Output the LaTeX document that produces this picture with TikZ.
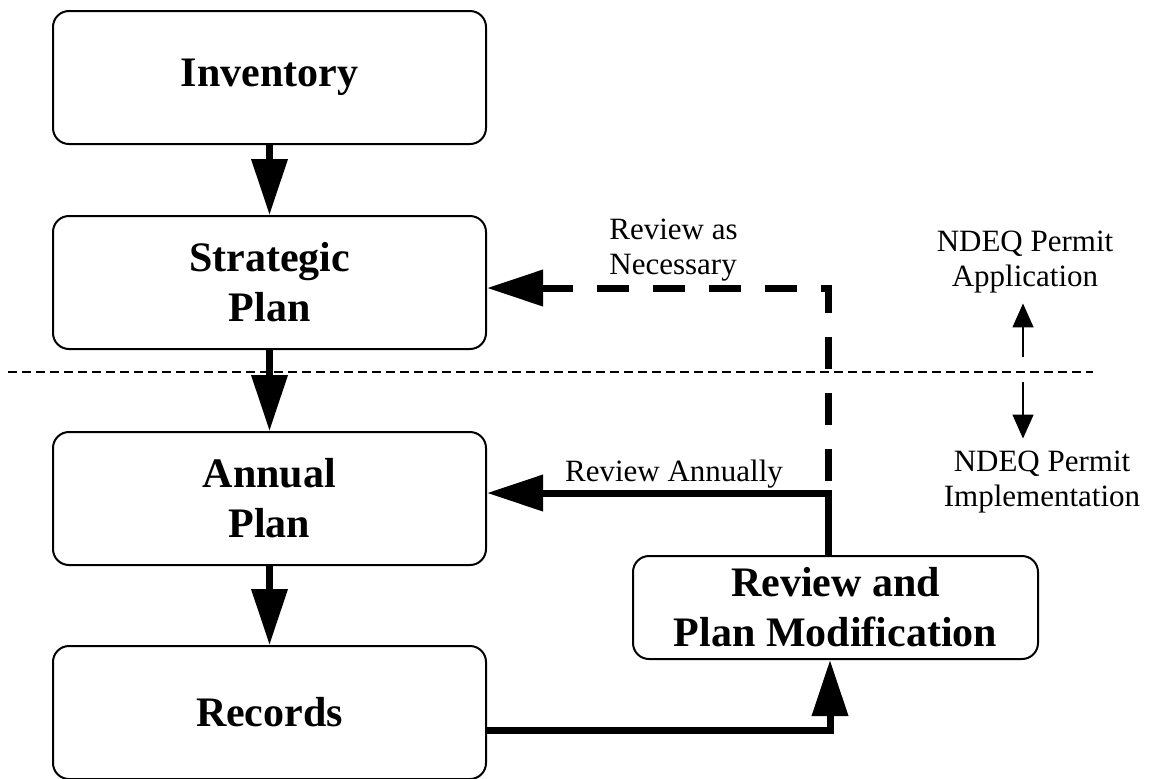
\documentclass[tikz,border=0pt]{standalone}
\usepackage{fontspec}
\setmainfont{Liberation Serif}
\usetikzlibrary{positioning,arrows.meta}

\begin{document}
\begin{tikzpicture}[x=0.5pt,y=-0.5pt,
  blk/.style={rectangle,rounded corners=8pt,draw,line width=1pt,
              minimum width=216.5pt,minimum height=66.5pt,align=center,
              font=\fontsize{21}{25}\selectfont\bfseries,inner sep=2pt},
  arr/.style={-{Triangle[length=28pt,width=17.5pt]},line width=3.5pt},
  darr/.style={{Triangle[length=28pt,width=17.5pt]}-,line width=3.5pt,
               dash pattern=on 16pt off 12pt},
  tarr/.style={-{Triangle[length=12pt,width=10.5pt]},line width=0.75pt},
  lbl/.style={font=\fontsize{15.5}{17.5}\selectfont,inner sep=0pt},
  sepline/.style={line width=0.75pt,dash pattern=on 4.5pt off 2.5pt}
]
\useasboundingbox (0,0) rectangle (1149,778);

% left column
\node[blk] (inv) at (269.5,77.5) {Inventory};
\node[blk,below=35pt of inv] (strat) {Strategic\\Plan};
\node[blk,below=40.5pt of strat] (ann) {Annual\\Plan};
\node[blk,below=39.5pt of ann] (rec) {Records};
\node[blk,minimum width=202.5pt,minimum height=51.5pt] (rpm) at (835.5,607.5)
  {Review and\\Plan Modification};

% permit boundary
\coordinate (sl) at (8,372);
\coordinate (sr) at (1093,372);
\draw[sepline] (sl) -- (sr);

\draw[arr] (inv) -- (strat);
\draw[arr] (strat) -- (ann);
\draw[arr] (ann) -- (rec);
\draw[arr] ([yshift=-8.75pt]rec.east) -| ([xshift=-2.75pt]rpm.south);

% review loops
\coordinate (ra) at (828,493);
\coordinate (rn) at (828,288);
\draw[arr] ([xshift=-3.75pt]rpm.north) -- (ra) -- (ann.east |- ra);
\draw[darr] (strat.east |- rn) -- (rn) -- ([xshift=-3.75pt]rpm.north);
\node[lbl,align=left,anchor=west] (nec) at (609,250) {Review as\\Necessary};
\node[lbl] (annl) at (674,474) {Review Annually};

% permit labels
\node[lbl,align=center] (app) at (1025,262) {NDEQ Permit\\Application};
\node[lbl,align=center] (imp) at (1042,482) {NDEQ Permit\\Implementation};
\coordinate (upst) at (1023,357);
\coordinate (dnst) at (1023,382);
\draw[tarr,shorten >=5pt] (upst) -- (upst |- app.south);
\draw[tarr,shorten >=6pt] (dnst) -- (dnst |- imp.north);
\end{tikzpicture}
\end{document}
